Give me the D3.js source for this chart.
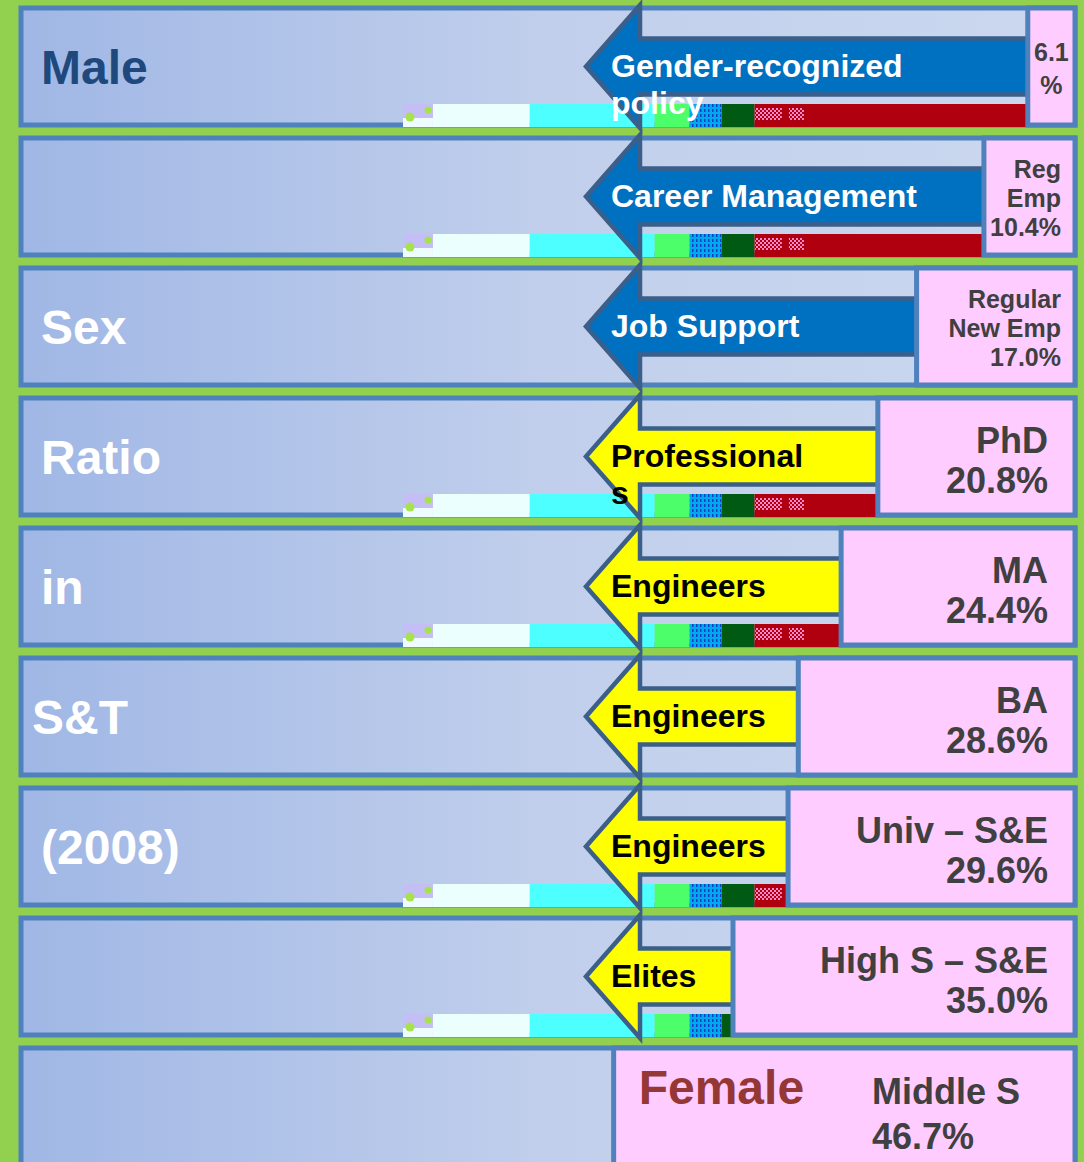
<!DOCTYPE html>
<meta charset="utf-8">
<style>
body { margin: 0; background: #92d050; }
svg { display: block; }
text { font-family: "Liberation Sans", Arial, sans-serif; font-weight: bold; }
</style>
<svg width="1084" height="1162"></svg>
<script src="https://cdn.jsdelivr.net/npm/d3@7"></script>
<script>

// one row per stage of the pipeline, top to bottom
var sideLabels = ["Male", "", "Sex", "Ratio", "in", "S&T", "(2008)", "", ""];
var stages = [[], ["Reg", "Emp"], ["Regular", "New Emp"], ["PhD"], ["MA"], ["BA"],
              ["Univ \u2013 S&E"], ["High S \u2013 S&E"], ["Middle S"]];
var femaleShare = [6.1, 10.4, 17.0, 20.8, 24.4, 28.6, 29.6, 35.0, 46.7];
var arrowLabels = [["Gender-recognized", "policy"], ["Career Management"], ["Job Support"],
                   ["Professional", "s"], ["Engineers"], ["Engineers"], ["Engineers"], ["Elites"], []];
var arrowKinds = ["policy", "policy", "policy", "people", "people", "people", "people", "people", "none"];

// the coloured strip left over along the bottom of some rows
var stripRows = [0, 1, 3, 4, 6, 7];
var stripShares = [30, 97, 125, 35, 32, 33, 323];

var svg = d3.select("svg"),
    width = +svg.attr("width"),
    height = +svg.attr("height");

var left = 21, right = 1075;

var rows = d3.range(femaleShare.length);

var y = d3.scaleBand()
    .domain(rows)
    .range([8, 8 + 130 * 8.9])
    .paddingInner(0.1);

var bw = y.bandwidth();

var x = d3.scaleLinear()
    .domain([0, 50])
    .range([right + 15, right + 15 - 510]);

var arrowFill = d3.scaleOrdinal()
    .domain(["policy", "people"])
    .range(["#0070c0", "#ffff00"]);

var arrowText = d3.scaleOrdinal()
    .domain(["policy", "people"])
    .range(["#ffffff", "#000000"]);

var stripX = d3.scaleLinear()
    .domain([0, d3.sum(stripShares)])
    .range([403, right + 2]);

var stripColor = d3.scaleOrdinal()
    .domain(d3.range(stripShares.length))
    .range(["url(#dots)", "#ecffff", "#4dffff", "#4cff6a", "url(#dash)", "#005a14", "#b00010"]);

var defs = svg.append("defs");

var grad = defs.append("linearGradient")
    .attr("id", "rowfill")
    .attr("gradientUnits", "userSpaceOnUse")
    .attr("x1", left).attr("x2", right).attr("y1", 0).attr("y2", 0);
grad.append("stop").attr("offset", 0).attr("stop-color", "#a0b7e5");
grad.append("stop").attr("offset", 0.5).attr("stop-color", "#c1cfec");
grad.append("stop").attr("offset", 1).attr("stop-color", "#cbd8ef");

var dots = defs.append("pattern")
    .attr("id", "dots")
    .attr("patternUnits", "userSpaceOnUse")
    .attr("width", 30).attr("height", 24);
dots.append("rect").attr("width", 30).attr("height", 24).attr("fill", "#c4bdf6");
dots.append("rect").attr("y", 14).attr("width", 30).attr("height", 10).attr("fill", "#eefcff");
dots.append("circle").attr("cx", 8).attr("cy", 6).attr("r", 3.5).attr("fill", "#a6e34a");
dots.append("circle").attr("cx", 20).attr("cy", 13).attr("r", 4.5).attr("fill", "#a6e34a");

var dash = defs.append("pattern")
    .attr("id", "dash")
    .attr("patternUnits", "userSpaceOnUse")
    .attr("width", 4).attr("height", 5);
dash.append("rect").attr("width", 4).attr("height", 5).attr("fill", "#00a8f0");
dash.append("rect").attr("width", 1.5).attr("height", 3).attr("fill", "#1040c0");

var check = defs.append("pattern")
    .attr("id", "check")
    .attr("patternUnits", "userSpaceOnUse")
    .attr("width", 4).attr("height", 4);
check.append("rect").attr("width", 4).attr("height", 4).attr("fill", "#b00010");
check.append("rect").attr("width", 2).attr("height", 2).attr("fill", "#ff88cc");
check.append("rect").attr("x", 2).attr("y", 2).attr("width", 2).attr("height", 2).attr("fill", "#ff88cc");

var row = svg.selectAll(".row")
  .data(rows)
  .enter().append("g")
    .attr("class", "row")
    .attr("transform", function(i) { return "translate(0," + y(i) + ")"; });

row.append("rect")
    .attr("x", left)
    .attr("width", right - left)
    .attr("height", bw)
    .attr("fill", "url(#rowfill)")
    .attr("stroke", "#4f81bd")
    .attr("stroke-width", 5);

// bottom strip
var strip = row.filter(function(i) { return stripRows.indexOf(i) >= 0; })
  .append("g")
    .attr("transform", "translate(0," + (bw - 21) + ")");

var stacked = [];
stripShares.reduce(function(acc, s, k) { stacked.push([acc, acc + s, k]); return acc + s; }, 0);

strip.selectAll("rect")
  .data(stacked)
  .enter().append("rect")
    .attr("x", function(d) { return stripX(d[0]); })
    .attr("width", function(d) { return stripX(d[1]) - stripX(d[0]); })
    .attr("height", 23)
    .attr("fill", function(d) { return stripColor(d[2]); });

strip.selectAll(".blob")
  .data([0.7, 12.4, 34.5])
  .enter().append("rect")
    .attr("class", "blob")
    .attr("x", function(d) { return stripX(d3.sum(stripShares.slice(0, 6)) + d); })
    .attr("y", 4)
    .attr("width", 15)
    .attr("height", 12)
    .attr("fill", "url(#check)");

// arrows
var tip = 586, head = 54, half = 28;

row.filter(function(i) { return arrowKinds[i] !== "none"; })
  .append("path")
    .attr("d", function(i) {
      var cy = bw / 2, bx = x(femaleShare[i]) + 10;
      return "M" + tip + "," + cy +
        "L" + (tip + head) + "," + (-3) +
        "L" + (tip + head) + "," + (cy - half) +
        "L" + bx + "," + (cy - half) +
        "L" + bx + "," + (cy + half) +
        "L" + (tip + head) + "," + (cy + half) +
        "L" + (tip + head) + "," + (bw + 3) + "Z";
    })
    .attr("fill", function(i) { return arrowFill(arrowKinds[i]); })
    .attr("stroke", "#3c5f8a")
    .attr("stroke-width", 4.5)
    .attr("stroke-linejoin", "miter");

// female share boxes
row.append("rect")
    .attr("x", function(i) { return x(femaleShare[i]); })
    .attr("width", function(i) { return right - x(femaleShare[i]); })
    .attr("height", bw)
    .attr("fill", "#ffccff")
    .attr("stroke", "#4f81bd")
    .attr("stroke-width", 5);

// left hand title
row.append("text")
    .attr("x", function(i) { return i === 5 ? 32 : 41; })
    .attr("y", bw / 2 + 17)
    .attr("font-size", 48)
    .attr("fill", function(i) { return i === 0 ? "#1f497d" : "#ffffff"; })
    .text(function(i) { return sideLabels[i]; });

// arrow captions
row.each(function(i) {
  var g = d3.select(this);
  var t = g.append("text")
      .attr("x", tip + 25)
      .attr("y", bw / 2 + 10)
      .attr("font-size", 32)
      .attr("fill", arrowText(arrowKinds[i]));
  t.selectAll("tspan")
    .data(arrowLabels[i])
    .enter().append("tspan")
      .attr("x", tip + 25)
      .attr("dy", function(d, k) { return k ? 37 : 0; })
      .text(function(d) { return d; });
});

// box labels
var fmt = d3.format(".1f");

row.each(function(i) {
  var g = d3.select(this);
  var pct = fmt(femaleShare[i]) + "%";
  var cy = bw / 2;
  var lines, size, step, ax, anchor, first;
  if (i === 0) {
    lines = [fmt(femaleShare[i]), "%"];
    size = 25; step = 33; ax = (x(femaleShare[i]) + right) / 2; anchor = "middle"; first = cy - 6;
  } else if (i < 3) {
    lines = stages[i].concat([pct]);
    size = 25; step = 29; ax = right - 14; anchor = "end"; first = cy - 19;
  } else if (i < 8) {
    lines = stages[i].concat([pct]);
    size = 36; step = 40; ax = right - 27; anchor = "end"; first = cy - 4;
  } else {
    lines = stages[i].concat([pct]);
    size = 36; step = 45; ax = 872; anchor = "start"; first = cy - 3;
  }
  g.append("text")
      .attr("font-size", size)
      .attr("fill", "#404040")
      .attr("text-anchor", anchor)
      .attr("y", first)
    .selectAll("tspan")
    .data(lines)
    .enter().append("tspan")
      .attr("x", ax)
      .attr("dy", function(d, k) { return k ? step : 0; })
      .text(function(d) { return d; });
});

// the last row is the female end of the pipeline
row.filter(function(i) { return i === rows.length - 1; })
  .append("text")
    .attr("x", function(i) { return x(femaleShare[i]) + 25; })
    .attr("y", bw / 2 - 3)
    .attr("font-size", 48)
    .attr("fill", "#953735")
    .text("Female");

</script>
